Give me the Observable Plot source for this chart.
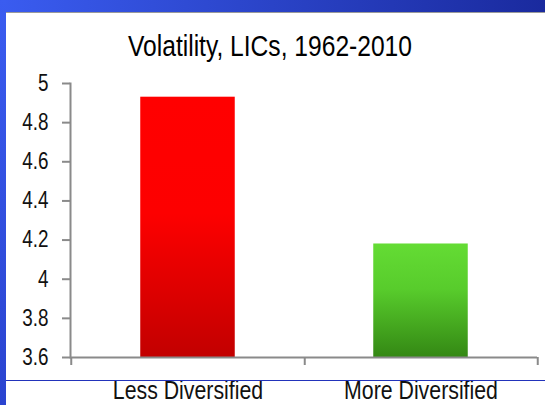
<!DOCTYPE html>
<html><head><meta charset="utf-8">
<script src="https://cdn.jsdelivr.net/npm/d3@7"></script>
<script src="https://cdn.jsdelivr.net/npm/@observablehq/plot@0.6"></script>
<style>
html,body{margin:0;padding:0;width:545px;height:405px;overflow:hidden;background:#fff;}
#frame{position:relative;width:545px;height:405px;background:linear-gradient(to right,#3a5cf0,#1a2a9e);overflow:hidden;}
#left{position:absolute;left:0;top:0;width:6px;height:405px;background:linear-gradient(to bottom,#3a5cf0,#2a44d0);}
#panel{position:absolute;left:6px;top:12px;right:0;bottom:0;background:#fff;border-top:1.5px solid #9a9a9a;}
#title{position:absolute;left:0;top:31px;width:540px;text-align:center;font-size:30px;line-height:30px;font-family:"Liberation Sans",Arial,sans-serif;color:#000;transform:scaleX(0.82);transform-origin:270px 0;}
#chart{position:absolute;left:0;top:0;}
#blue{position:absolute;left:6px;right:0;top:379.5px;height:1.3px;background:#2233bb;}
</style></head>
<body>
<div id="frame">
  <div id="left"></div>
  <div id="panel"></div>
  <div id="chart"></div>
  <div id="title">Volatility, LICs, 1962-2010</div>
  <div id="blue"></div>
</div>
<script>
const categories = ["Less Diversified", "More Diversified"];
const values = [4.93, 4.18];
const yTicks = [3.6, 3.8, 4, 4.2, 4.4, 4.6, 4.8, 5];
const yDomain = [3.6, 5];

const data = categories.map((c, i) => ({cat: c, val: values[i]}));
const W = 545, H = 405, mL = 70, mR = 8, mT = 83, mB = 48;
const step = (W - mL - mR) / categories.length;
const axisColor = "#8a8a8a";
const font = "'Liberation Sans',Arial,sans-serif";

const chart = Plot.plot({
  width: W, height: H,
  marginLeft: mL, marginRight: mR, marginTop: mT, marginBottom: mB,
  style: {background: "transparent", fontFamily: font, color: "#000", overflow: "visible"},
  x: {domain: categories, padding: 0, axis: null},
  y: {domain: yDomain, axis: null},
  marks: [
    Plot.barY(data, {x: "cat", y1: yDomain[0], y2: "val",
      fill: d => d.cat === categories[0] ? "url(#gRed)" : "url(#gGreen)",
      insetLeft: 69.25, insetRight: 69.25}),
    Plot.ruleY([yDomain[0]], {stroke: axisColor, strokeWidth: 2}),
    Plot.frame({anchor: "left", stroke: axisColor, strokeWidth: 2}),
    Plot.axisX({tickSize: 8, tickFormat: () => "", label: null, dx: step / 2, stroke: axisColor, strokeWidth: 2}),
    Plot.axisX({ticks: [categories[0]], tickSize: 8, tickFormat: () => "", label: null, dx: -step / 2, stroke: axisColor, strokeWidth: 2}),
    Plot.axisX({tickSize: 0, tickPadding: 23, fontSize: 26, fill: "#111", label: null}),
    Plot.axisY({ticks: yTicks, tickSize: 8, tickPadding: 14, fontSize: 23, fill: "#111", label: null,
      tickFormat: d => String(+d.toFixed(1)), stroke: axisColor, strokeWidth: 2})
  ]
});

const svg = d3.select(chart);
// narrow the glyphs (Arial Narrow look) around each text's anchor point
svg.selectAll("text").each(function() {
  const t = this.getAttribute("transform") || "";
  this.setAttribute("transform", (t + " scale(0.82,1)").trim());
});
const defs = svg.insert("defs", ":first-child");
const gr = defs.append("linearGradient").attr("id", "gRed").attr("x1", 0).attr("y1", 0).attr("x2", 0).attr("y2", 1);
gr.append("stop").attr("offset", "0%").attr("stop-color", "#ff0000");
gr.append("stop").attr("offset", "45%").attr("stop-color", "#fd0000");
gr.append("stop").attr("offset", "100%").attr("stop-color", "#c20000");
const gg = defs.append("linearGradient").attr("id", "gGreen").attr("x1", 0).attr("y1", 0).attr("x2", 0).attr("y2", 1);
gg.append("stop").attr("offset", "0%").attr("stop-color", "#64dc34");
gg.append("stop").attr("offset", "40%").attr("stop-color", "#58cc2c");
gg.append("stop").attr("offset", "100%").attr("stop-color", "#348814");

document.getElementById("chart").appendChild(chart);
</script>
</body></html>
